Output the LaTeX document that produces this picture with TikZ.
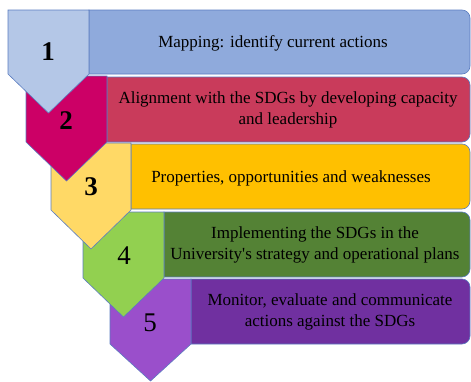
\documentclass[tikz,border=0pt]{standalone}
\usepackage{fontspec}
\setmainfont{Liberation Serif}
\definecolor{edge}{HTML}{5A7CC0}
\definecolor{barA}{HTML}{8FAADC}
\definecolor{chevA}{HTML}{B4C7E7}
\definecolor{barB}{HTML}{C93B5B}
\definecolor{chevB}{HTML}{CC0066}
\definecolor{barC}{HTML}{FFC000}
\definecolor{chevC}{HTML}{FFD966}
\definecolor{barD}{HTML}{548235}
\definecolor{chevD}{HTML}{92D050}
\definecolor{barE}{HTML}{7030A0}
\definecolor{chevE}{HTML}{9A4FCB}
\begin{document}
\begin{tikzpicture}[x=1pt,y=-1pt,
  shapeline/.style={draw=edge,line width=0.6pt,line join=miter},
  bartext/.style={font=\fontsize{17}{21}\selectfont,align=center,inner sep=0pt},
  numbold/.style={font=\fontsize{27}{27}\selectfont\bfseries,inner sep=0pt},
  numreg/.style={font=\fontsize{27}{27}\selectfont,inner sep=0pt}]
\useasboundingbox (0,0) rectangle (471,381);
% stage 5
\path[shapeline,fill=barE] (191,279) [rounded corners=8pt]-- (470,279) -- (470,344) [sharp corners]-- (191,344) -- cycle;
\path[shapeline,fill=chevE] (110,279) -- (191,279) -- (191,344) -- (150.5,381) -- (110,344) -- cycle;
\node[numreg] (n5) at (150,323) {5};
\node[bartext] (t5) at (330,312) {Monitor, evaluate and communicate\\actions against the SDGs};
% stage 4
\path[shapeline,fill=barD] (164,212) [rounded corners=8pt]-- (470,212) -- (470,277) [sharp corners]-- (164,277) -- cycle;
\path[shapeline,fill=chevD] (83,212) -- (164,212) -- (164,278) -- (123.5,317) -- (83,278) -- cycle;
\node[numreg] (n4) at (124,256) {4};
\node[bartext] (t4) at (315,245) {Implementing the SDGs in the\\University\textquotesingle s strategy and operational plans};
% stage 3
\path[shapeline,fill=barC] (131,144) [rounded corners=8pt]-- (470,144) -- (470,209) [sharp corners]-- (131,209) -- cycle;
\path[shapeline,fill=chevC] (51,143) -- (131,143) -- (131,210) -- (91,249) -- (51,210) -- cycle;
\node[numbold] (n3) at (91,187) {3};
\node[bartext] (t3) at (291,178) {Properties, opportunities and weaknesses};
% stage 2
\path[shapeline,fill=barB] (107,77) [rounded corners=8pt]-- (470,77) -- (470,142) [sharp corners]-- (107,142) -- cycle;
\path[shapeline,fill=chevB] (26,76) -- (107,76) -- (107,142) -- (66.5,181) -- (26,142) -- cycle;
\node[numbold] (n2) at (66,121) {2};
\node[bartext] (t2) at (288,110) {Alignment with the SDGs by developing capacity\\and leadership};
% stage 1
\path[shapeline,fill=barA] (89,10) [rounded corners=8pt]-- (470,10) -- (470,74) [sharp corners]-- (89,74) -- cycle;
\path[shapeline,fill=chevA] (8,10) -- (89,10) -- (89,74) -- (48.5,113) -- (8,74) -- cycle;
\node[numbold] (n1) at (48,52) {1};
\node[bartext] (t1) at (273,43) {Mapping: identify current actions};
\end{tikzpicture}
\end{document}
